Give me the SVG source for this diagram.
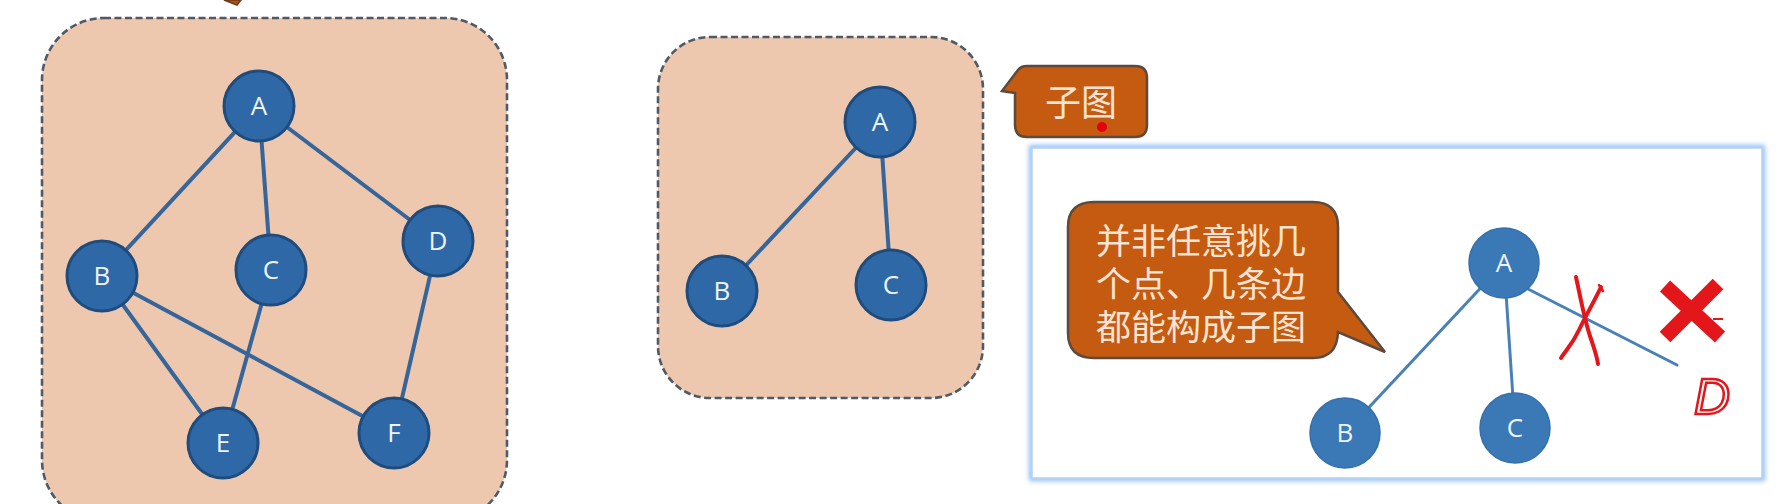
<svg xmlns="http://www.w3.org/2000/svg" width="1787" height="504" viewBox="0 0 1787 504">
<style>
.panel{fill:#edc8af;stroke:#4f5a66;stroke-width:2.6;stroke-dasharray:7 3.5}
.edge{stroke:#36659a;stroke-width:4;stroke-linecap:round;fill:none}
.edge2{stroke:#4a80b8;stroke-width:3;stroke-linecap:round;fill:none}
.node{fill:#2e68a6;stroke:#1f4c7c;stroke-width:3}
.node2{fill:#3b78b6;stroke:#3470ab;stroke-width:1.5}
.lbl{font-family:"Open Sans","Liberation Sans",sans-serif;font-size:26px;fill:#eef4fb;text-anchor:middle}
.callout{fill:#c55a11;stroke:#5d4a3c;stroke-width:2.5}
.ctext{font-family:"Liberation Sans","Noto Sans CJK SC",sans-serif;fill:#fbe4d3}
.red{stroke:#e3161b;fill:none;stroke-linecap:round;stroke-linejoin:round}
</style>
<defs>
<filter id="glow" x="-5%" y="-5%" width="110%" height="110%">
<feGaussianBlur stdDeviation="2.5"/>
</filter>
</defs>
<rect width="1787" height="504" fill="#ffffff"/>

<!-- cut-off callout tail at top -->
<path d="M224 0 L241 0 L237 5 Z" fill="#b8500f" stroke="#6b3a1c" stroke-width="1.5"/>

<!-- left panel -->
<g id="panel-full">
<rect class="panel" x="42" y="18" width="465" height="504" rx="62" ry="62"/>
</g>

<!-- middle panel -->
<g id="panel-sub">
<rect class="panel" x="658" y="37" width="325" height="361" rx="52" ry="52"/>
</g>

<!-- inset panel -->
<g id="inset">
<rect x="1032" y="148" width="730" height="330" fill="none" stroke="#8fbdf5" stroke-width="6" filter="url(#glow)"/>
<rect x="1032" y="148" width="730" height="330" fill="#ffffff" stroke="#b5d2f5" stroke-width="1.5"/>
</g>

<g id="connectors">
<line class="edge" x1="259" y1="106" x2="102" y2="276"/>
<line class="edge" x1="259" y1="106" x2="271" y2="270"/>
<line class="edge" x1="259" y1="106" x2="438" y2="241"/>
<line class="edge" x1="102" y1="276" x2="223" y2="443"/>
<line class="edge" x1="102" y1="276" x2="394" y2="433"/>
<line class="edge" x1="271" y1="270" x2="223" y2="443"/>
<line class="edge" x1="438" y1="241" x2="394" y2="433"/>
<line class="edge" x1="880" y1="122" x2="722" y2="291"/>
<line class="edge" x1="880" y1="122" x2="891" y2="285"/>
<line class="edge2" x1="1504" y1="263" x2="1345" y2="433"/>
<line class="edge2" x1="1504" y1="263" x2="1515" y2="428"/>
<line class="edge2" x1="1528" y1="289" x2="1677" y2="365"/>
</g>

<g id="g1-A"><circle class="node" cx="259" cy="106" r="35"/><text class="lbl" x="259" y="115">A</text></g>
<g id="g1-B"><circle class="node" cx="102" cy="276" r="35"/><text class="lbl" x="102" y="285">B</text></g>
<g id="g1-C"><circle class="node" cx="271" cy="270" r="35"/><text class="lbl" x="271" y="279">C</text></g>
<g id="g1-D"><circle class="node" cx="438" cy="241" r="35"/><text class="lbl" x="438" y="250">D</text></g>
<g id="g1-E"><circle class="node" cx="223" cy="443" r="35"/><text class="lbl" x="223" y="452">E</text></g>
<g id="g1-F"><circle class="node" cx="394" cy="433" r="35"/><text class="lbl" x="394" y="442">F</text></g>

<g id="g2-A"><circle class="node" cx="880" cy="122" r="35"/><text class="lbl" x="880" y="131">A</text></g>
<g id="g2-B"><circle class="node" cx="722" cy="291" r="35"/><text class="lbl" x="722" y="300">B</text></g>
<g id="g2-C"><circle class="node" cx="891" cy="285" r="35"/><text class="lbl" x="891" y="294">C</text></g>

<g id="g3-A"><circle class="node2" cx="1504" cy="263" r="35"/><text class="lbl" x="1504" y="272">A</text></g>
<g id="g3-B"><circle class="node2" cx="1345" cy="433" r="35"/><text class="lbl" x="1345" y="442">B</text></g>
<g id="g3-C"><circle class="node2" cx="1515" cy="428" r="35"/><text class="lbl" x="1515" y="437">C</text></g>

<!-- callout: 子图 -->
<g id="callout-subgraph">
<path class="callout" d="M1027 66 H1135 Q1147 66 1147 78 V125 Q1147 137 1135 137 H1027 Q1015 137 1015 125 V93 L1002 91 L1018 70 Q1021 66 1027 66 Z"/>
<text class="ctext" x="1081" y="116" font-size="36" text-anchor="middle">子图</text>
<circle cx="1102" cy="127" r="5" fill="#e3000f"/>
</g>

<!-- callout: explanation -->
<g id="callout-note">
<path class="callout" d="M1094 202 H1313 Q1338 202 1338 227 V292 L1385 352 L1338 332 Q1337 358 1313 358 H1094 Q1068 358 1068 333 V227 Q1068 202 1094 202 Z"/>
<text class="ctext" font-size="35">
<tspan x="1096" y="254">并非任意挑几</tspan>
<tspan x="1096" y="297">个点、几条边</tspan>
<tspan x="1096" y="340">都能构成子图</tspan>
</text>
</g>

<!-- red annotations -->
<g id="annotations">
<path class="red" stroke-width="4" d="M1576 277 C1581 300 1584 318 1590 336 S1597 356 1598 364"/>
<path class="red" stroke-width="4" d="M1601 287 C1595 300 1586 315 1579 330 S1566 350 1561 358"/>
<path class="red" stroke-width="2.5" d="M1599 285 L1603 291"/>
<path stroke="#e3161b" stroke-width="15" stroke-linecap="butt" d="M1665 286 L1720 337 M1718 284 L1665 337"/>
<line x1="1713" y1="319" x2="1723" y2="319" stroke="#e3161b" stroke-width="2"/>
<text x="1712" y="414" font-family="Liberation Sans, sans-serif" font-size="50" font-style="italic" fill="none" stroke="#e3161b" stroke-width="2.5" text-anchor="middle">D</text>
</g>
</svg>
